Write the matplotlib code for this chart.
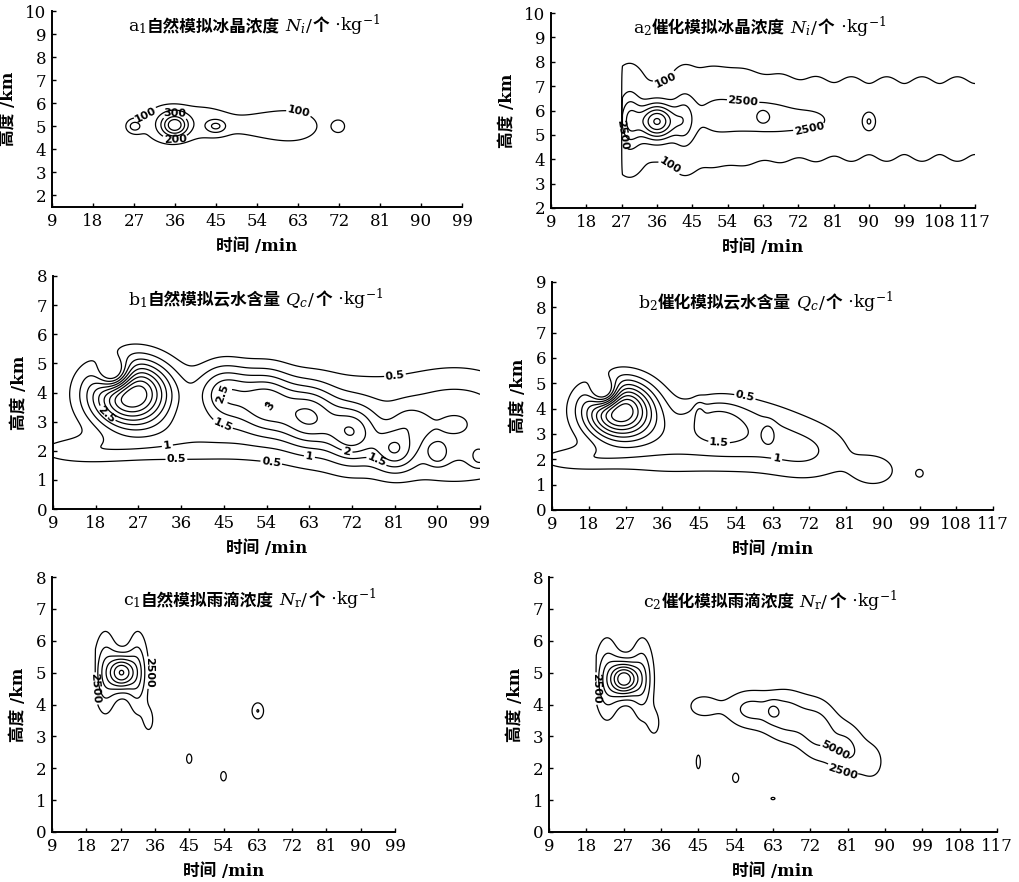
import numpy as np
import matplotlib.pyplot as plt

plt.rcParams['font.family'] = ['DejaVu Serif', 'Noto Sans CJK SC']
plt.rcParams['mathtext.fontset'] = 'dejavuserif'

# each field is read off the picture as a set of cells:
# centre time (min), centre height (km), peak value, spread in time, spread in height

# a1 natural ice crystal number
a1_t = [36, 33, 27, 45, 42, 56, 63, 72]
a1_z = [5.05, 5.1, 5.0, 5.0, 5.2, 5.05, 5.0, 5.0]
a1_v = [420, 150, 200, 200, 120, 125, 110, 125]
a1_st = [2.0, 4, 1.3, 1.5, 5, 7, 4, 1.5]
a1_sz = [0.35, 0.7, 0.22, 0.2, 0.75, 0.65, 0.5, 0.3]
a1_levels = [100, 200, 300, 400, 500]

# a2 seeded ice crystal number (seeding starts at 27 min)
a2_start = 27
a2_t = [36, 36, 29, 43,
        49.5, 58.5, 67.5, 76.5, 85.5, 94.5, 103.5, 112.5, 121.5,
        52, 63, 74, 63, 90]
a2_z = [5.55, 5.5, 5.6, 5.6,
        5.65, 5.65, 5.65, 5.65, 5.65, 5.65, 5.65, 5.65, 5.65,
        5.8, 5.75, 5.6, 5.75, 5.55]
a2_v = [15000, 400, 7000, 5000,
        300, 300, 300, 300, 300, 300, 300, 300, 300,
        3300, 3300, 3000, 2600, 5000]
a2_st = [3.2, 8, 2.0, 2.0,
         3.2, 3.2, 3.2, 3.2, 3.2, 3.2, 3.2, 3.2, 3.2,
         5, 5, 6, 1, 1.3]
a2_sz = [0.5, 0.75, 0.8, 0.8,
         1.15, 1.15, 1.15, 1.15, 1.15, 1.15, 1.15, 1.15, 1.15,
         0.7, 0.55, 0.45, 0.2, 0.3]
a2_levels = [100, 2500, 5000, 7500, 10000, 12500, 15000, 17500]

# b1 natural cloud water
b1_t = [15, 36, 54, 72, 90, 99,
        45, 54, 63, 72, 81, 90, 99,
        84, 25.5, 22]
b1_z = [2.0, 2.4, 3.0, 2.9, 2.9, 2.9,
        4.0, 3.75, 3.2, 2.6, 2.0, 1.85, 1.75,
        3.0, 3.95, 4.6]
b1_v = [0.8, 0.8, 0.85, 0.85, 0.85, 0.85,
        2.0, 1.95, 1.95, 1.85, 1.6, 0.8, 0.8,
        0.5, 5.2, -3.0]
b1_st = [8, 9, 9, 9, 9, 9,
         4, 4, 4, 3.5, 3, 1.5, 1.5,
         2.5, 6, 2.5]
b1_sz = [0.35, 0.6, 1.0, 1.3, 1.3, 1.3,
         0.7, 0.75, 0.75, 0.65, 0.5, 0.25, 0.25,
         0.4, 0.8, 0.4]
b1_levels = [0.5, 1, 1.5, 2, 2.5, 3, 3.5, 4, 4.5]

# b2 seeded cloud water
b2_t = [15, 36, 54, 72, 88, 60, 49, 45, 62, 99, 25.5, 22]
b2_z = [2.0, 2.6, 2.9, 2.2, 1.55, 3.2, 3.6, 3.9, 3.0, 1.45, 3.95, 4.6]
b2_v = [0.8, 0.85, 0.85, 0.85, 0.85, 0.45, 0.8, 0.45, 0.6, 0.8, 5.0, -3.0]
b2_st = [8, 9, 9, 8, 4, 12, 5, 0.9, 1.1, 0.9, 6, 2.5]
b2_sz = [0.35, 0.9, 1.0, 0.8, 0.45, 0.9, 0.6, 0.3, 0.3, 0.15, 0.8, 0.4]
b2_levels = [0.5, 1, 1.5, 2, 2.5, 3, 3.5, 4, 4.5]

# c1 natural raindrop number (cloud starts at 20 min)
c_start = 20.3
c1_t = [23, 31.5, 27.3, 34.5, 63, 45, 54]
c1_z = [5.0, 5.0, 5.0, 3.5, 3.8, 2.3, 1.75]
c1_v = [7000, 7000, 16000, 3000, 5100, 4000, 4000]
c1_st = [2.2, 2.0, 2.25, 1.2, 1.26, 0.7, 0.75]
c1_sz = [0.9, 0.9, 0.37, 0.35, 0.21, 0.15, 0.15]
c1_levels = list(range(2500, 30000, 2500))

# c2 seeded raindrop number
c2_t = [23, 31.5, 27.2, 34.5, 46, 57, 66, 74, 81, 87, 63, 45, 54, 63]
c2_z = [4.8, 4.8, 4.8, 3.4, 3.95, 3.85, 3.65, 3.2, 2.6, 2.2, 3.8, 2.2, 1.7, 1.05]
c2_v = [7000, 7000, 18000, 3000, 3400, 5300, 5800, 5600, 5000, 3300, 2500, 4000, 4000, 3000]
c2_st = [2.2, 2.0, 2.25, 1.2, 3.5, 4, 4, 3.5, 3, 2.5, 1.2, 0.5, 0.75, 0.8]
c2_sz = [0.9, 0.9, 0.37, 0.35, 0.35, 0.45, 0.6, 0.7, 0.6, 0.5, 0.2, 0.22, 0.15, 0.06]
c2_levels = list(range(2500, 30000, 2500))


def field(t, z, tc, zc, v, st, sz):
    f = np.zeros_like(t)
    for a, b, c, d, e in zip(tc, zc, v, st, sz):
        f += c * np.exp(-0.5 * (((t - a) / d) ** 2 + ((z - b) / e) ** 2))
    return f


W, H = 1019, 882
fig = plt.figure(figsize=(W / 100, H / 100), dpi=100)


def make_ax(px):
    l, r, t, b = px
    ax = fig.add_axes([l / W, 1 - b / H, (r - l) / W, (b - t) / H])
    for s in ['top', 'right']:
        ax.spines[s].set_visible(False)
    for s in ['left', 'bottom']:
        ax.spines[s].set_linewidth(1.4)
    ax.tick_params(direction='in', length=3, width=1, labelsize=12, pad=4)
    ax.set_xlabel('时间 /min', fontsize=12, fontweight='bold', labelpad=6)
    ax.set_ylabel('高度 /km', fontsize=12, fontweight='bold', labelpad=6)
    return ax


def draw(ax, tmax, zlim, tc, zc, v, st, sz, levels, start=None):
    t = np.arange(9, tmax + 0.01, 0.2)
    z = np.arange(zlim[0], zlim[1] + 0.001, 0.02)
    tt, zz = np.meshgrid(t, z)
    f = field(tt, zz, tc, zc, v, st, sz)
    if start is not None:
        f[tt < start] = 0
    cs = ax.contour(tt, zz, f, levels=levels, colors='black', linewidths=0.9)
    ax.set_xlim(9, tmax)
    ax.set_ylim(*zlim)
    ax.set_xticks(range(9, tmax + 1, 9))
    return cs


def labels(ax, cs, pts):
    txt = ax.clabel(cs, cs.levels, manual=pts, fmt='%g', fontsize=8, inline=True, inline_spacing=2)
    for tx in txt:
        tx.set_family('DejaVu Sans')
        tx.set_fontweight('bold')


ax1 = make_ax((52, 462, 11, 207))
cs = draw(ax1, 99, (1.5, 10), a1_t, a1_z, a1_v, a1_st, a1_sz, a1_levels)
ax1.set_yticks(range(2, 11))
labels(ax1, cs, [(29, 5.6), (63, 5.45), (36, 5.5), (36, 4.5)])

ax2 = make_ax((551, 975, 13, 208))
cs = draw(ax2, 117, (2, 10), a2_t, a2_z, a2_v, a2_st, a2_sz, a2_levels, start=a2_start)
ax2.set_yticks(range(2, 11))
labels(ax2, cs, [(38, 7.3), (38, 3.5), (58, 6.5), (75, 4.95), (27.3, 5.0)])

ax3 = make_ax((53, 480, 276, 509))
cs = draw(ax3, 99, (0, 8), b1_t, b1_z, b1_v, b1_st, b1_sz, b1_levels)
ax3.set_yticks(range(0, 9))
labels(ax3, cs, [(20, 3.2), (33, 2.3), (35, 1.95), (55, 1.6), (44, 4.0), (45, 3.0),
                 (56, 3.4), (71, 2.0), (63, 1.75), (77, 1.6), (81, 4.7)])

ax4 = make_ax((552, 993, 282, 510))
cs = draw(ax4, 117, (0, 9), b2_t, b2_z, b2_v, b2_st, b2_sz, b2_levels)
ax4.set_yticks(range(0, 10))
labels(ax4, cs, [(56, 4.3), (50, 2.9), (64, 2.0)])

ax5 = make_ax((52, 395, 577, 832))
cs = draw(ax5, 99, (0, 8), c1_t, c1_z, c1_v, c1_st, c1_sz, c1_levels, start=c_start)
ax5.set_yticks(range(0, 9))
labels(ax5, cs, [(20.5, 4.5), (34.5, 5.0)])

ax6 = make_ax((549, 997, 577, 832))
cs = draw(ax6, 117, (0, 8), c2_t, c2_z, c2_v, c2_st, c2_sz, c2_levels, start=c_start)
ax6.set_yticks(range(0, 9))
labels(ax6, cs, [(20.5, 4.5), (79, 2.7), (80, 2.0)])

# titles: pieces set one after another on a common baseline
rend = fig.canvas.get_renderer()


def title(x, y, letter, idx, name, var):
    parts = [('$\\mathrm{%s}_{%s}$' % (letter, idx), dict(fontsize=12.5)),
             (name, dict(fontsize=12, fontweight='bold', family='Noto Sans CJK SC')),
             (' $%s$/' % var, dict(fontsize=12.5)),
             ('个', dict(fontsize=12, fontweight='bold', family='Noto Sans CJK SC')),
             (' $\\cdot$kg$^{-1}$', dict(fontsize=12.5))]
    for s, kw in parts:
        tx = fig.text(x / W, 1 - y / H, s, va='baseline', ha='left', **kw)
        x += tx.get_window_extent(renderer=rend).width


title(128, 31, 'a', '1', '自然模拟冰晶浓度', 'N_i')
title(633, 33, 'a', '2', '催化模拟冰晶浓度', 'N_i')
title(128, 305, 'b', '1', '自然模拟云水含量', 'Q_c')
title(638, 308, 'b', '2', '催化模拟云水含量', 'Q_c')
title(123, 605, 'c', '1', '自然模拟雨滴浓度', 'N_\\mathrm{r}')
title(643, 607, 'c', '2', '催化模拟雨滴浓度', 'N_\\mathrm{r}')

fig.savefig('out.png', dpi=100)
